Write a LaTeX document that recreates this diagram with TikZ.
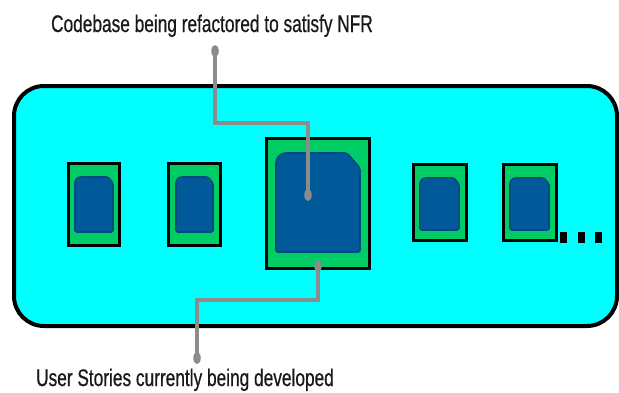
\documentclass[tikz,border=0pt]{standalone}
\usepackage{fontspec}
\usetikzlibrary{shapes.geometric}
\setmainfont{Liberation Sans}[FakeStretch=0.72,FakeBold=0.6]
\definecolor{bgcyan}{HTML}{00FFFF}
\definecolor{boxgreen}{HTML}{00CC66}
\definecolor{cardblue}{HTML}{005A9A}
\definecolor{cardedge}{HTML}{004A80}
\definecolor{pin}{HTML}{8C8C8C}
\tikzset{
  frame/.style={draw=black,fill=bgcyan,line width=4pt,rounded corners=30pt},
  gbox/.style={draw=black,fill=boxgreen,line width=3pt},
  card/.style={draw=cardedge,fill=cardblue,line width=1.6pt,line join=round},
  pinline/.style={draw=pin,line width=3.8pt},
  pinhead/.style={fill=pin,ellipse,inner sep=0pt,minimum width=7.5pt,minimum height=12pt},
  lbl/.style={font=\fontsize{24}{28}\selectfont,text=black!90,inner sep=0pt},
  ell/.style={fill=black}
}
\begin{document}
\begin{tikzpicture}[x=1pt,y=-1pt]
\useasboundingbox (0,0) rectangle (619,392);
\fill[white] (0,0) rectangle (619,392);
% outer frame
\draw[frame] (14,86) rectangle (617,326);
% boxes
\draw[gbox] (68,163) rectangle (119,245);
\draw[card] (75,232) [rounded corners=6pt] -- (75,177) [rounded corners=1.5pt] -- (108,177) -- (113,183) -- (113,232) -- cycle;
\draw[gbox] (168,163) rectangle (220,245);
\draw[card] (176,232) [rounded corners=6pt] -- (176,177) [rounded corners=1.5pt] -- (208,177) -- (213,183) -- (213,232) -- cycle;
\draw[gbox] (266,138) rectangle (369,268);
\draw[card] (276,252) [rounded corners=10pt] -- (276,153) [rounded corners=2pt] -- (347,153) -- (360,168) -- (360,252) -- cycle;
\draw[gbox] (413,164) rectangle (466,240);
\draw[card] (420,230) [rounded corners=6pt] -- (420,178) [rounded corners=1.5pt] -- (454,178) -- (459,184) -- (459,230) -- cycle;
\draw[gbox] (503,164) rectangle (556,240);
\draw[card] (510,230) [rounded corners=6pt] -- (510,178) [rounded corners=1.5pt] -- (544,178) -- (549,184) -- (549,230) -- cycle;
% ellipsis
\fill[ell] (560,232) rectangle (567,243);
\fill[ell] (578,232) rectangle (585,243);
\fill[ell] (595,232) rectangle (602,243);
% labels
\node[lbl,anchor=base] (toplbl) at (212,32) {Codebase being refactored to satisfy NFR};
\node[lbl,anchor=base] (botlbl) at (185,386) {User Stories currently being developed};
% pins
\coordinate (tA) at (215,51);
\coordinate (tB) at (308,195);
\coordinate (bA) at (318,266);
\coordinate (bB) at (197,358);
\draw[pinline] (tA) |- (308,123) -- (tB);
\node[pinhead] (tdotA) at (tA) {};
\node[pinhead] (tdotB) at (tB) {};
\draw[pinline] (bA) |- (197,300) -- (bB);
\node[pinhead] (bdotA) at (bA) {};
\node[pinhead] (bdotB) at (bB) {};
\end{tikzpicture}
\end{document}
